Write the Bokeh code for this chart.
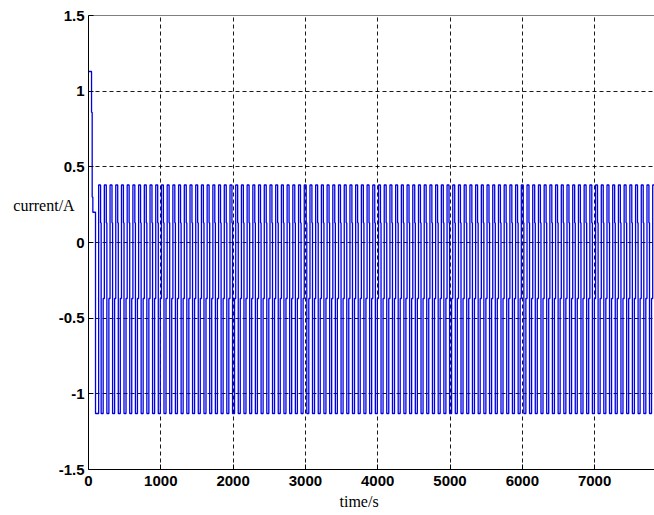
import numpy as np
from bokeh.plotting import figure
from bokeh.models import FixedTicker, Span, Title
from bokeh.embed import file_html
from bokeh.resources import INLINE

# ---- data ----
# start-up transient (time in s, current in A)
start_t = [0, 42, 42, 51, 51, 60, 60, 97, 97, 140]
start_i = [1.13, 1.13, 0.86, 0.86, 0.30, 0.30, 0.20, 0.20, -1.13, -1.13]

# one switching cycle of the steady state (offsets within a cycle, current levels)
cycle_t = [0, 27, 27, 35, 35, 63, 63, 79]
cycle_i = [0.38, 0.38, 0.13, 0.13, -1.13, -1.13, -0.37, -0.37]
period = 79
first_cycle = 140
n_cycles = 99

x_ticks = [0, 1000, 2000, 3000, 4000, 5000, 6000, 7000]
x_labels = ["0", "1000", "2000", "3000", "4000", "5000", "6000", "7000"]
y_ticks = [-1.5, -1, -0.5, 0, 0.5, 1, 1.5]
y_labels = ["-1.5", "-1", "-0.5", "0", "0.5", "1", "1.5"]

x_end = 7828

# ---- build the series by repeating the read cycle ----
t = list(start_t)
i = list(start_i)
for k in range(n_cycles):
    t0 = first_cycle + k * period
    t.extend([t0 + dt for dt in cycle_t])
    i.extend(cycle_i)

p = figure(width=654, height=515, x_range=(0, x_end), y_range=(-1.5, 1.5),
           output_backend="svg", toolbar_location=None,
           min_border_left=88, min_border_right=0, min_border_top=15,
           min_border_bottom=46)
p.outline_line_color = None
p.background_fill_color = "white"
p.border_fill_color = "white"

p.line(t, i, line_color="#0000e6", line_width=1.3)

for ax, ticks, labels in ((p.xaxis[0], x_ticks, x_labels), (p.yaxis[0], y_ticks, y_labels)):
    ax.ticker = FixedTicker(ticks=ticks)
    ax.major_label_overrides = {tk: lb for tk, lb in zip(ticks, labels)}
    ax.major_tick_in = 5
    ax.major_tick_out = 0
    ax.minor_tick_line_color = None
    ax.axis_line_color = "black"
    ax.major_tick_line_color = "black"
    ax.major_label_text_font = "Liberation Sans"
    ax.major_label_text_font_style = "bold"
    ax.major_label_text_font_size = "15px"
    ax.major_label_text_color = "black"

p.xaxis.major_label_standoff = 6
p.yaxis.major_label_standoff = 4

# horizontal y label, raised above the middle like the reference
p.yaxis.axis_label = "current/A\n\n\n\n"
p.yaxis.axis_label_orientation = "horizontal"
p.yaxis.axis_label_standoff = -19
p.yaxis.axis_label_text_font = "Liberation Serif"
p.yaxis.axis_label_text_font_style = "normal"
p.yaxis.axis_label_text_font_size = "16px"
p.yaxis.axis_label_text_line_height = 1.1
p.yaxis.axis_label_text_color = "black"

p.add_layout(Title(text="time/s", align="left", offset=251, standoff=5,
                   text_font="Liberation Serif", text_font_style="normal",
                   text_font_size="16px", text_color="black"), "below")

for g in (p.xgrid[0], p.ygrid[0]):
    g.grid_line_color = "black"
    g.grid_line_dash = "4 3"
    g.grid_line_width = 1
    g.grid_line_alpha = 0.9

p.add_layout(Span(location=1.5, dimension="width", line_color="black", line_width=1))

open("out.html", "w").write(file_html(p, INLINE))
